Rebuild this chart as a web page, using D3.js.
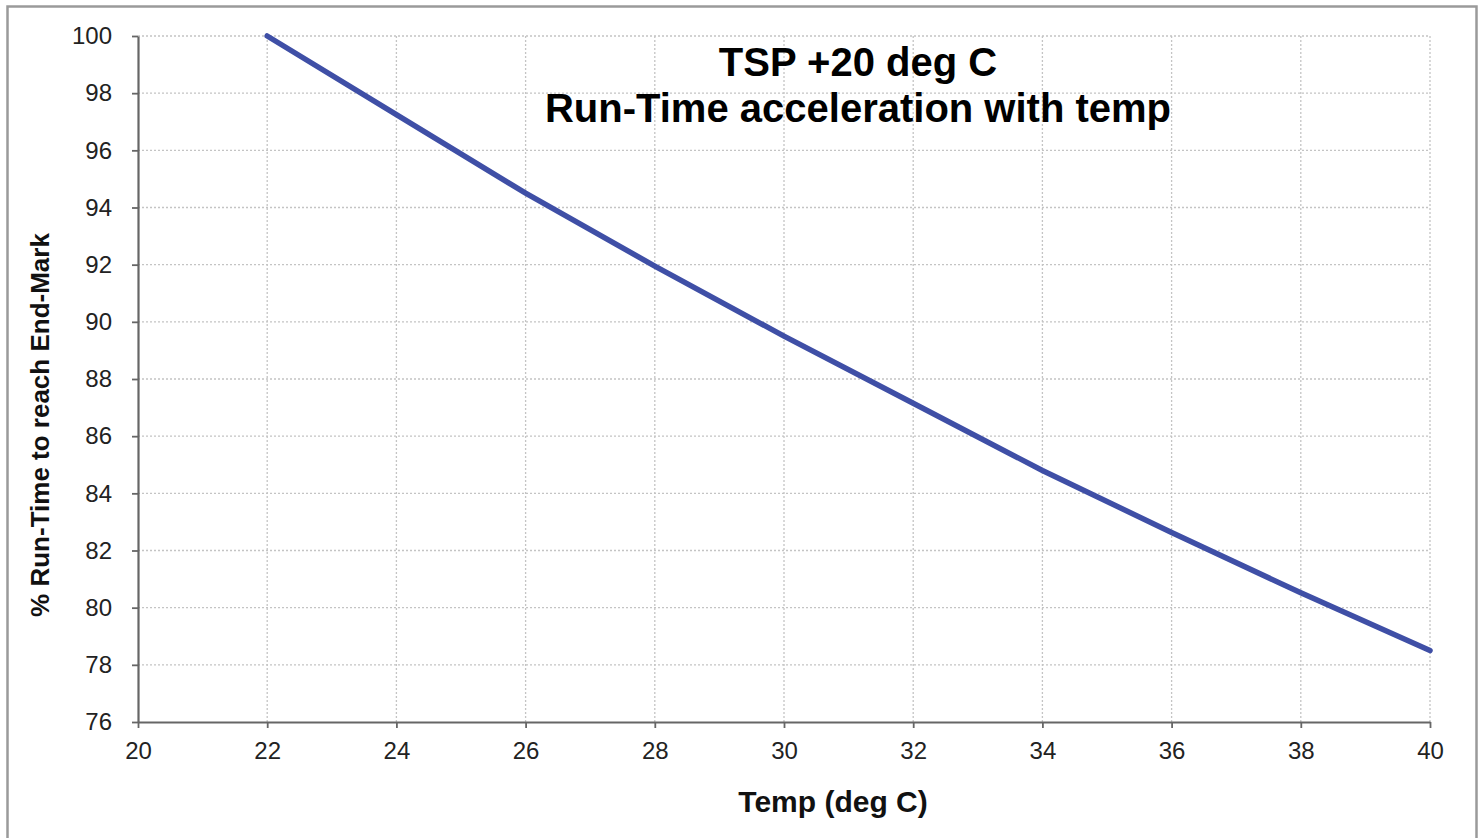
<!DOCTYPE html>
<html>
<head>
<meta charset="utf-8">
<script src="https://cdn.jsdelivr.net/npm/d3@7"></script>
<style>
  body { margin: 0; background: #fff; }
  text { font-family: "Liberation Sans", Arial, sans-serif; }
</style>
</head>
<body>
<div id="container"></div>
<script>
// data
var temps = [22, 24, 26, 28, 30, 32, 34, 36, 38, 40]
var runTime = [100, 97.25, 94.5, 91.95, 89.5, 87.15, 84.8, 82.63, 80.52, 78.5]
var xTicks = [20, 22, 24, 26, 28, 30, 32, 34, 36, 38, 40]
var yTicks = [76, 78, 80, 82, 84, 86, 88, 90, 92, 94, 96, 98, 100]

var ancho = 1484, alto = 838
var m = {left: 138, right: 54, top: 36, bottom: 116}

var svg = d3.select("#container").append("svg")
    .attr("width", ancho)
    .attr("height", alto)

// outer frame
svg.append("rect")
    .attr("x", 7.5).attr("y", 6.5)
    .attr("width", 1469).attr("height", 850)
    .attr("fill", "none").attr("stroke", "#9a9a9a").attr("stroke-width", 2.5)

var x = d3.scaleLinear().domain([20, 40]).range([m.left, ancho - m.right])
var y = d3.scaleLinear().domain([76, 100]).range([alto - m.bottom, m.top])

// grid
svg.append("g").selectAll("line").data(xTicks.slice(1)).enter().append("line")
    .attr("x1", function(d){ return x(d) }).attr("x2", function(d){ return x(d) })
    .attr("y1", y(76)).attr("y2", y(100))
    .attr("stroke", "#c4c4c4").attr("stroke-width", 1.3).attr("stroke-dasharray", "2,2")
svg.append("g").selectAll("line").data(yTicks.slice(1)).enter().append("line")
    .attr("y1", function(d){ return y(d) }).attr("y2", function(d){ return y(d) })
    .attr("x1", x(20)).attr("x2", x(40))
    .attr("stroke", "#c4c4c4").attr("stroke-width", 1.3).attr("stroke-dasharray", "2,2")

// axes
var ax = svg.append("g")
    .attr("transform", "translate(0," + y(76) + ")")
    .call(d3.axisBottom(x).tickValues(xTicks).tickSize(6).tickSizeOuter(0).tickPadding(14))
var ay = svg.append("g")
    .attr("transform", "translate(" + x(20) + ",0)")
    .call(d3.axisLeft(y).tickValues(yTicks).tickSize(6).tickSizeOuter(0).tickPadding(20))
;[ax, ay].forEach(function(a){
    a.select(".domain").attr("stroke", "#666").attr("stroke-width", 2.2)
    a.selectAll(".tick line").attr("stroke", "#666").attr("stroke-width", 1.8)
    a.selectAll(".tick text").attr("fill", "#222").style("font-size", "24px")
        .style("font-family", "'Liberation Sans', Arial, sans-serif")
})

// line
svg.append("path")
    .datum(d3.zip(temps, runTime))
    .attr("fill", "none")
    .attr("stroke", "#3f4fa6")
    .attr("stroke-width", 5.5)
    .attr("stroke-linecap", "round")
    .attr("d", d3.line().x(function(d){ return x(d[0]) }).y(function(d){ return y(d[1]) }))

// titles
svg.append("text").attr("x", 858).attr("y", 76).attr("text-anchor", "middle")
    .style("font-size", "40px").style("font-weight", "bold").attr("fill", "#000")
    .text("TSP +20 deg C")
svg.append("text").attr("x", 858).attr("y", 122).attr("text-anchor", "middle")
    .style("font-size", "40px").style("font-weight", "bold").attr("fill", "#000")
    .text("Run-Time acceleration with temp")

svg.append("text").attr("x", 833).attr("y", 812).attr("text-anchor", "middle")
    .style("font-size", "30px").style("font-weight", "bold").attr("fill", "#111")
    .text("Temp (deg C)")
svg.append("text")
    .attr("transform", "translate(49,425) rotate(-90)")
    .attr("text-anchor", "middle")
    .style("font-size", "26px").style("font-weight", "bold").attr("fill", "#111")
    .text("% Run-Time to reach End-Mark")
</script>
</body>
</html>
